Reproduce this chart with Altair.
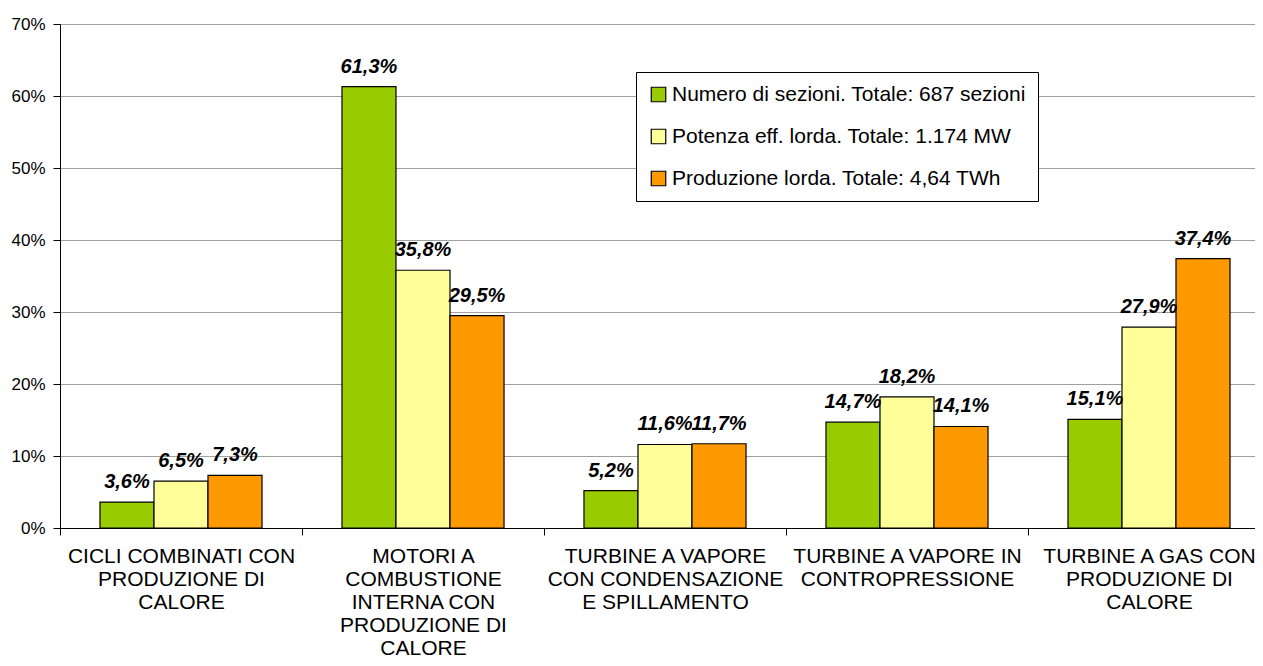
import altair as alt
import pandas as pd

categories = [
    "CICLI COMBINATI CON\nPRODUZIONE DI\nCALORE",
    "MOTORI A\nCOMBUSTIONE\nINTERNA CON\nPRODUZIONE DI\nCALORE",
    "TURBINE A VAPORE\nCON CONDENSAZIONE\nE SPILLAMENTO",
    "TURBINE A VAPORE IN\nCONTROPRESSIONE",
    "TURBINE A GAS CON\nPRODUZIONE DI\nCALORE",
]
series = [
    "Numero di sezioni. Totale: 687 sezioni",
    "Potenza eff. lorda. Totale: 1.174 MW",
    "Produzione lorda. Totale: 4,64 TWh",
]
numero = [3.6, 61.3, 5.2, 14.7, 15.1]
potenza = [6.5, 35.8, 11.6, 18.2, 27.9]
produzione = [7.3, 29.5, 11.7, 14.1, 37.4]
colors = ["#99CC00", "#FFFF99", "#FF9900"]
y_ticks = [0, 0.1, 0.2, 0.3, 0.4, 0.5, 0.6, 0.7]

rows = []
for s, vals in zip(series, [numero, potenza, produzione]):
    for c, v in zip(categories, vals):
        rows.append({
            "cat": c,
            "serie": s,
            "val": v / 100,
            "lab": f"{v:.1f}%".replace(".", ","),
        })
df = pd.DataFrame(rows)

FONT = "Liberation Sans"

x_enc = alt.X(
    "cat:N",
    sort=categories,
    title=None,
    scale=alt.Scale(paddingInner=0, paddingOuter=0, range=[0, 1210]),
    axis=alt.Axis(
        labelAngle=0,
        labelExpr="split(datum.label, '\\n')",
        labelFontSize=21,
        labelLineHeight=23,
        labelPadding=10,
        labelColor="black",
        labelFont=FONT,
        labelBaseline="top",
        labelLimit=400,
        tickBand="extent",
        tickSize=7,
        tickColor="black",
        domainColor="black",
        grid=False,
    ),
)
xoff = alt.XOffset(
    "serie:N",
    sort=series,
    scale=alt.Scale(paddingInner=0, paddingOuter=0.74),
)
y_enc = alt.Y(
    "val:Q",
    title=None,
    scale=alt.Scale(domain=[0, 0.7], nice=False),
    axis=alt.Axis(
        values=y_ticks,
        format=".0%",
        labelFontSize=17,
        labelFont=FONT,
        labelColor="black",
        labelPadding=8,
        tickSize=7,
        tickColor="black",
        domainColor="black",
        gridColor="#A0A0A0",
        gridWidth=1,
    ),
)

bars = alt.Chart(df).mark_bar(stroke="black", strokeWidth=1.2).encode(
    x=x_enc,
    xOffset=xoff,
    y=y_enc,
    color=alt.Color(
        "serie:N",
        sort=series,
        scale=alt.Scale(domain=series, range=colors),
        legend=alt.Legend(
            title=None,
            orient="none",
            legendX=576,
            legendY=48,
            symbolType="square",
            symbolSize=210,
            symbolStrokeColor="black",
            symbolStrokeWidth=1.2,
            symbolOpacity=1,
            labelFontSize=21,
            labelFont=FONT,
            labelColor="black",
            labelLimit=600,
            labelOffset=3,
            rowPadding=20,
            padding=12,
            fillColor="white",
            strokeColor="black",
        ),
    ),
)

labels = alt.Chart(df).mark_text(
    font=FONT,
    fontSize=20,
    fontWeight="bold",
    fontStyle="italic",
    color="black",
    baseline="alphabetic",
    dy=-14,
).encode(
    x=alt.X("cat:N", sort=categories),
    xOffset=alt.XOffset("serie:N", sort=series),
    y="val:Q",
    text="lab:N",
)

chart = (
    alt.layer(bars, labels)
    .properties(
        width=1195,
        height=504,
        autosize=alt.AutoSizeParams(type="none"),
        padding={"left": 52, "top": 16, "right": 0, "bottom": 130},
    )
    .configure_view(stroke=None)
    .configure(font=FONT)
)

chart.save("out.html", embed_options={"renderer": "svg", "actions": False})
